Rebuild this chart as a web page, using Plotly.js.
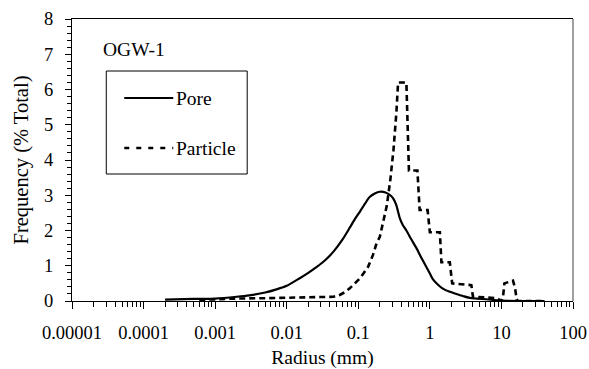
<!DOCTYPE html>
<html>
<head>
<meta charset="utf-8">
<script src="https://cdn.plot.ly/plotly-3.0.1.min.js"></script>
<style>
html,body{margin:0;padding:0;background:#fff;}
#chart{width:589px;height:369px;}
</style>
</head>
<body>
<div id="chart"></div>
<script>
// Pore size distribution (solid line)
const poreRadius = [0.0002, 0.0005, 0.001, 0.002, 0.003, 0.005, 0.0072, 0.01, 0.015, 0.02, 0.026, 0.035, 0.045, 0.06, 0.076, 0.09, 0.105, 0.125, 0.144, 0.17, 0.2, 0.24, 0.28, 0.31, 0.34, 0.38, 0.42, 0.47, 0.55, 0.65, 0.75, 0.89, 1.0, 1.1, 1.3, 1.5, 1.9, 2.35, 3, 3.6, 4.5, 6.1, 8.6, 10, 20, 40];
const poreFreq   = [0.04, 0.06, 0.07, 0.12, 0.16, 0.24, 0.33, 0.43, 0.64, 0.8, 0.96, 1.17, 1.4, 1.74, 2.08, 2.33, 2.53, 2.77, 2.95, 3.05, 3.1, 3.08, 3.0, 2.9, 2.72, 2.35, 2.15, 2.0, 1.75, 1.5, 1.25, 0.97, 0.78, 0.62, 0.46, 0.36, 0.26, 0.2, 0.13, 0.09, 0.07, 0.05, 0.02, 0.01, 0, 0];

// Particle size distribution (dashed line)
const particleRadius = [0.0006, 0.001, 0.002, 0.005, 0.01, 0.02, 0.035, 0.045, 0.055, 0.065, 0.076, 0.09, 0.105, 0.12, 0.137, 0.16, 0.18, 0.2, 0.21, 0.25, 0.28, 0.31, 0.34, 0.36, 0.47, 0.49, 0.51, 0.67, 0.72, 0.93, 1.0, 1.38, 1.45, 1.9, 2.05, 3.8, 4.0, 6.0, 8.6, 10, 10.5, 11, 14.5, 15.5, 16.3, 17, 40];
const particleFreq   = [0.03, 0.05, 0.07, 0.08, 0.09, 0.1, 0.1, 0.12, 0.17, 0.25, 0.36, 0.5, 0.64, 0.8, 0.97, 1.3, 1.64, 1.82, 2.01, 2.7, 3.43, 4.28, 5.32, 6.2, 6.2, 4.85, 3.7, 3.7, 2.58, 2.58, 1.95, 1.95, 1.1, 1.1, 0.5, 0.45, 0.12, 0.1, 0.08, 0, 0.1, 0.5, 0.58, 0.37, 0.05, 0, 0];

// Axis ticks
const xTickVals = [0.00001, 0.0001, 0.001, 0.01, 0.1, 1, 10, 100];
const xTickText = ["0.00001", "0.0001", "0.001", "0.01", "0.1", "1", "10", "100"];
const yTickVals = [0, 1, 2, 3, 4, 5, 6, 7, 8];

const seriesNames = ["Pore", "Particle"];
const chartLabel = "OGW-1";

const FONT = "Liberation Serif";
const L = 71.7, R = 573, T = 19, B = 301, W = 589, H = 369;
const px = v => (v - L) / (R - L);
const py = v => (B - v) / (B - T);

const traces = [
  {x: poreRadius, y: poreFreq, type: "scatter", mode: "lines", name: seriesNames[0],
   line: {color: "#000", width: 2.2, shape: "spline", smoothing: 0.6}, showlegend: false},
  {x: particleRadius, y: particleFreq, type: "scatter", mode: "lines", name: seriesNames[1],
   line: {color: "#000", width: 2.6, dash: "6px,4px"}, showlegend: false}
];

const layout = {
  width: W, height: H,
  margin: {l: L, r: W - R, t: T, b: H - B, pad: 0},
  paper_bgcolor: "#fff", plot_bgcolor: "#fff",
  font: {family: FONT, size: 19, color: "#000"},
  showlegend: false,
  xaxis: {
    type: "log", range: [-5, 2], tickmode: "array", tickvals: xTickVals, ticktext: xTickText,
    ticks: "outside", ticklen: 7, tickwidth: 1, tickcolor: "#000",
    showline: true, linecolor: "#000", linewidth: 1, mirror: true,
    showgrid: false, zeroline: false, ticklabelstandoff: 8,
    minor: {ticks: "outside", ticklen: 5, tickwidth: 1, tickcolor: "#000", dtick: "D1", showgrid: false},
    tickfont: {family: FONT, size: 18.5, color: "#000"},
    title: {text: "Radius (mm)", font: {family: FONT, size: 19.5, color: "#000"}, standoff: 8}
  },
  yaxis: {
    range: [0, 8], tickmode: "array", tickvals: yTickVals,
    ticks: "outside", ticklen: 6, tickwidth: 1, tickcolor: "#000",
    showline: true, linecolor: "#000", linewidth: 1,
    showgrid: false, zeroline: false, ticklabelstandoff: 8,
    minor: {ticks: "outside", ticklen: 4, tickwidth: 1, tickcolor: "#000", dtick: 0.2, showgrid: false},
    tickfont: {family: FONT, size: 18.5, color: "#000"},
    title: {text: "Frequency (% Total)", font: {family: FONT, size: 20.5, color: "#000"}, standoff: 9}
  },
  shapes: [
    {type: "line", xref: "paper", yref: "paper", x0: 1, x1: 1, y0: 0, y1: 1, line: {color: "#808080", width: 1.5}},
    {type: "rect", xref: "paper", yref: "paper", x0: px(106), x1: px(247), y0: py(174), y1: py(71),
     line: {color: "#000", width: 1}, fillcolor: "#fff", layer: "above"},
    {type: "line", xref: "paper", yref: "paper", x0: px(124), x1: px(173), y0: py(98), y1: py(98),
     line: {color: "#000", width: 2.2}, layer: "above"},
    {type: "line", xref: "paper", yref: "paper", x0: px(124), x1: px(173), y0: py(148), y1: py(148),
     line: {color: "#000", width: 2.6, dash: "5px,7px"}, layer: "above"}
  ],
  annotations: [
    {text: chartLabel, xref: "paper", yref: "paper", x: px(101), y: py(49), xanchor: "left", yanchor: "middle",
     showarrow: false, font: {family: FONT, size: 19.5, color: "#000"}},
    {text: seriesNames[0], xref: "paper", yref: "paper", x: px(174), y: py(98), xanchor: "left", yanchor: "middle",
     showarrow: false, font: {family: FONT, size: 19.5, color: "#000"}},
    {text: seriesNames[1], xref: "paper", yref: "paper", x: px(174), y: py(148), xanchor: "left", yanchor: "middle",
     showarrow: false, font: {family: FONT, size: 19.5, color: "#000"}}
  ]
};

Plotly.newPlot("chart", traces, layout, {staticPlot: true, displayModeBar: false});
</script>
</body>
</html>
